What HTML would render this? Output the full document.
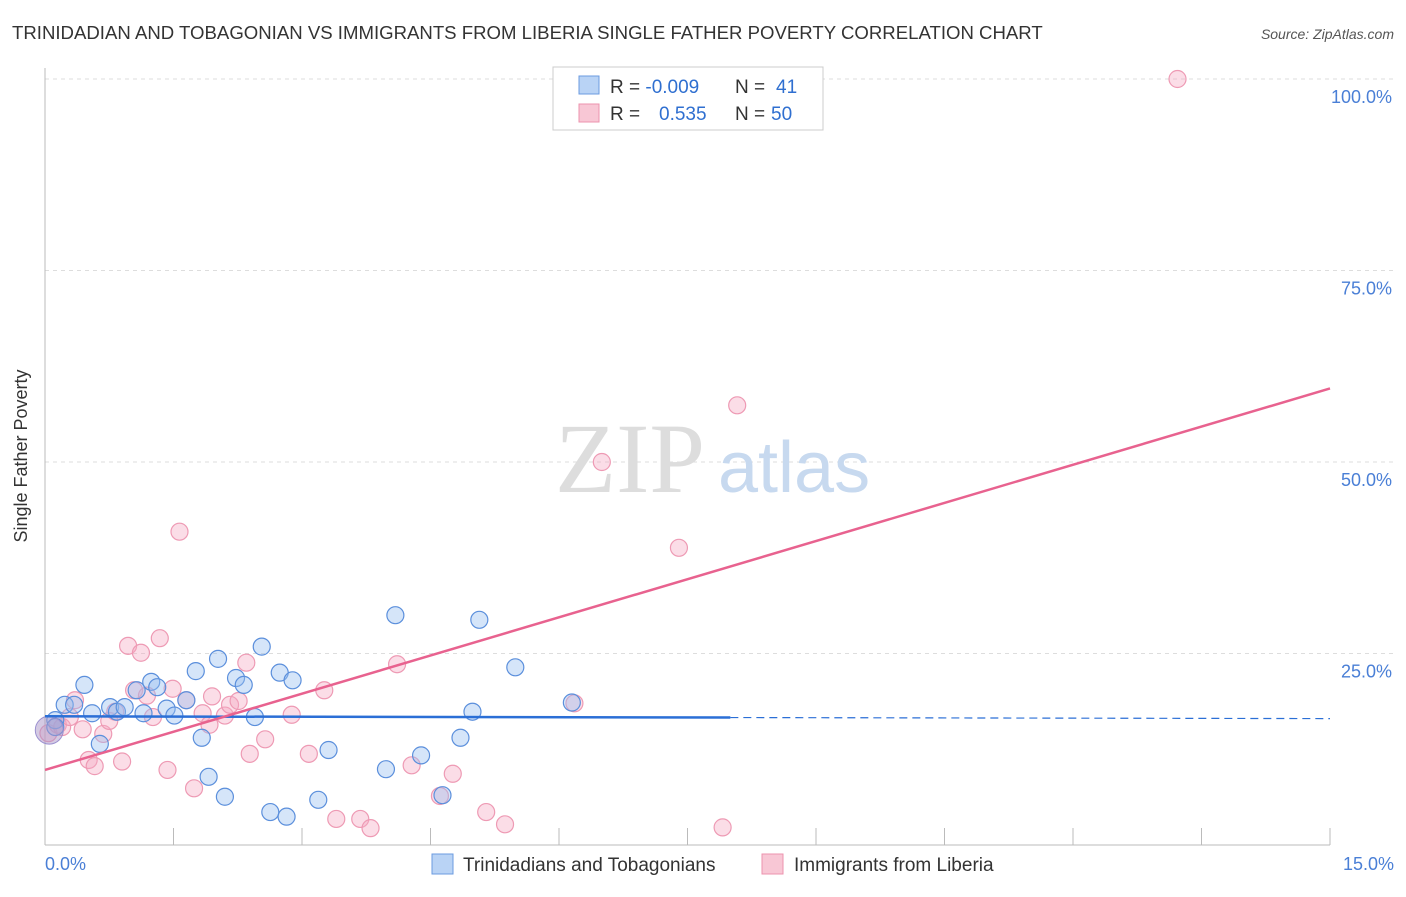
<!DOCTYPE html>
<html><head><meta charset="utf-8"><style>
body{margin:0;background:#fff;font-family:"Liberation Sans",sans-serif}
svg text{font-family:"Liberation Sans",sans-serif}
</style></head><body>
<svg width="1406" height="892" viewBox="0 0 1406 892">
<text x="12" y="39" font-size="18.6" fill="#333">TRINIDADIAN AND TOBAGONIAN VS IMMIGRANTS FROM LIBERIA SINGLE FATHER POVERTY CORRELATION CHART</text>
<text x="1394" y="39" font-size="14" fill="#555" text-anchor="end" font-style="italic">Source: ZipAtlas.com</text>
<g id="grid"></g>
<line x1="45" y1="68" x2="45" y2="845" stroke="#bbb"/>
<line x1="45" y1="845" x2="1330" y2="845" stroke="#bbb"/>
<g id="ticks"></g>
<text x="555" y="492" font-size="100" fill="#ddd" style="font-family:'Liberation Serif',serif">ZIP</text>
<text x="718" y="492" font-size="72" fill="#c7d9ef">atlas</text>
<text x="27" y="456" font-size="18" fill="#333" text-anchor="middle" transform="rotate(-90 27 456)">Single Father Poverty</text>
<text x="45" y="870" font-size="18" fill="#4a7fd6">0.0%</text>
<text x="1394" y="870" font-size="18" fill="#4a7fd6" text-anchor="end">15.0%</text>
<g id="ylabels"></g>
<g id="pts"></g>
<g id="lines"></g>
<g>
<rect x="553" y="67" width="270" height="63" fill="#fff" stroke="#ccc"/>
<rect x="579" y="76" width="20" height="18" fill="#b9d3f5" stroke="#6b9be0"/>
<rect x="579" y="104" width="20" height="18" fill="#f8c7d5" stroke="#ec93ae"/>
<text x="610" y="93" font-size="19" fill="#333">R = <tspan fill="#2f6fd0">-0.009</tspan><tspan x="735">N = </tspan><tspan x="776" fill="#2f6fd0">41</tspan></text>
<text x="610" y="120" font-size="19" fill="#333">R = <tspan x="659" fill="#2f6fd0">0.535</tspan><tspan x="735">N = </tspan><tspan x="771" fill="#2f6fd0">50</tspan></text>
</g>
<g>
<rect x="432" y="854" width="21" height="20" fill="#b9d3f5" stroke="#6b9be0"/>
<text x="463" y="871" font-size="19" fill="#333">Trinidadians and Tobagonians</text>
<rect x="762" y="854" width="21" height="20" fill="#f8c7d5" stroke="#ec93ae"/>
<text x="794" y="871" font-size="19" fill="#333">Immigrants from Liberia</text>
</g>
</svg>
<script>
const yTicks=[25,50,75,100];
const yTickLabels=["25.0%","50.0%","75.0%","100.0%"];
const blueX=[0.12,0.23,0.34,0.46,0.55,0.64,0.76,0.84,0.93,1.07,1.15,1.24,1.31,1.42,1.51,1.65,1.76,1.83,1.91,2.02,2.10,2.23,2.32,2.45,2.53,2.63,2.74,2.82,2.89,3.19,3.31,3.98,4.09,4.39,4.64,4.85,4.99,5.07,5.49,6.15,0.12];
const blueY=[16.3,18.3,18.3,20.9,17.2,13.2,18.0,17.4,18.0,20.2,17.2,21.3,20.6,17.8,16.9,18.9,22.7,14.0,8.9,24.3,6.3,21.8,20.9,16.7,25.9,4.3,22.5,3.7,21.5,5.9,12.4,9.9,30.0,11.7,6.5,14.0,17.4,29.4,23.2,18.6,15.4];
const pinkX=[0.04,0.15,0.20,0.29,0.35,0.44,0.51,0.58,0.68,0.75,0.82,0.90,0.97,1.04,1.12,1.19,1.26,1.34,1.43,1.49,1.57,1.65,1.74,1.84,1.92,1.95,2.10,2.16,2.26,2.35,2.39,2.57,2.88,3.08,3.26,3.40,3.68,3.80,4.11,4.28,4.61,4.76,5.15,5.37,6.18,6.50,7.40,8.08,7.91,13.22];
const pinkY=[14.6,15.7,15.4,16.7,18.9,15.1,11.1,10.3,14.5,16.2,17.4,10.9,26.0,20.2,25.1,19.5,16.7,27.0,9.8,20.4,40.9,18.9,7.4,17.2,15.7,19.4,16.9,18.3,18.8,23.8,11.9,13.8,17.0,11.9,20.2,3.4,3.4,2.2,23.6,10.4,6.4,9.3,4.3,2.7,18.5,50.0,38.8,57.4,2.3,100];
const blueLine=[16.8,16.5];
const pinkLine=[9.8,59.6];
const X=v=>45+v/15*1285, Y=v=>845-v/100*766;
const NS="http://www.w3.org/2000/svg";
function mk(t,a,p){const e=document.createElementNS(NS,t);for(const k in a)e.setAttribute(k,a[k]);p.appendChild(e);return e;}
const grid=document.getElementById('grid'),yl=document.getElementById('ylabels');
yTicks.forEach((t,i)=>{
 const l=mk('line',{x1:45,x2:1395,y1:Y(t),y2:Y(t),stroke:'#ddd','stroke-dasharray':'4,4'},grid);
 
 
 const tx=mk('text',{x:1392,y:Y(t)+24,'font-size':18,fill:'#4a7fd6','text-anchor':'end'},yl);
 tx.textContent=yTickLabels[i];
 
 
});
const tk=document.getElementById('ticks');
for(let i=1;i<=10;i++){const l=mk('line',{x1:X(i*1.5),x2:X(i*1.5),y1:828,y2:845,stroke:'#bbb'},tk);
 
 }
const pts=document.getElementById('pts');
pinkX.forEach((x,i)=>{const c=mk('circle',{cx:X(x),cy:Y(pinkY[i]),r:8.5,fill:'rgba(245,170,195,0.4)',stroke:'#ee9ab4','stroke-width':1.2},pts);
 
 });
blueX.forEach((x,i)=>{const c=mk('circle',{cx:X(x),cy:Y(blueY[i]),r:8.5,fill:'rgba(150,190,240,0.4)',stroke:'#5b8fdc','stroke-width':1.2},pts);
 
 });
const big=mk('circle',{cx:X(0.05),cy:Y(15),r:14,fill:'rgba(170,150,200,0.5)',stroke:'#9a8fcf'},pts);


const ln=document.getElementById('lines');
const bm=blueLine[0]+(blueLine[1]-blueLine[0])*(8/15);
const b1=mk('line',{x1:X(0),y1:Y(blueLine[0]),x2:X(8),y2:Y(bm),stroke:'#2b6fd6','stroke-width':2.5},ln);


const b2=mk('line',{x1:X(8),y1:Y(bm),x2:X(15),y2:Y(blueLine[1]),stroke:'#2b6fd6','stroke-width':1.2,'stroke-dasharray':'8,5'},ln);


const p1=mk('line',{x1:X(0),y1:Y(pinkLine[0]),x2:X(15),y2:Y(pinkLine[1]),stroke:'#e8628f','stroke-width':2.5},ln);


</script>
</body></html>
